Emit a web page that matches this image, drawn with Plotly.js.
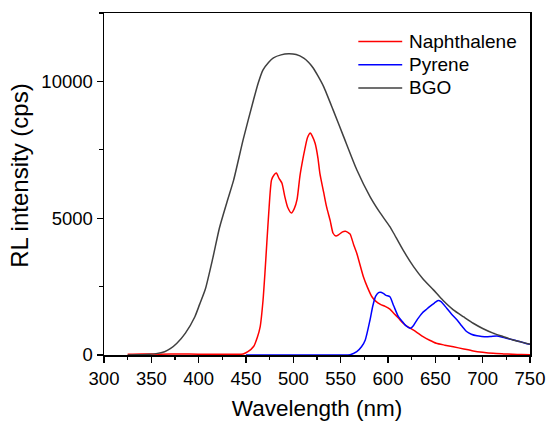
<!DOCTYPE html>
<html>
<head>
<meta charset="utf-8">
<script src="https://cdn.plot.ly/plotly-3.0.1.min.js"></script>
<style>
html,body{margin:0;padding:0;background:#fff;}
#chart{width:547px;height:422px;}
</style>
</head>
<body>
<div id="chart"></div>
<script>
// BGO
const bgoX = [325,335,345,355,364,370,377,386,396,401,407,415,422,430,437,447,458,463,468,474,479,487,495,503,511,516,521,526,532,542,553,567,581,591,602,606,616,627,637,648,658,669,680,690,700,711,722,732,741,750];
const bgoY = [0,5,20,50,120,230,430,800,1400,1850,2400,3550,4650,5600,6400,7870,9330,9950,10420,10700,10860,10970,11010,10980,10850,10700,10490,10200,9810,8960,7990,6770,5790,5230,4690,4450,3830,3230,2780,2380,2000,1650,1390,1160,970,800,670,550,470,390];

// Naphthalene
const napX = [325,340,360,380,400,420,440,447,452,458,462,465,468,470,472,474,477,480,482,485,488,491,494,498,501,504,507,510,512,515,518,520,523,526,528,532,535,539,542,545,548,552,555,558,560,564,567,574,578,583,587,592,597,602,606,611,616,621,627,632,637,644,651,660,669,680,690,700,711,722,732,741,750];
const napY = [30,40,30,40,30,30,30,40,120,310,650,1040,2000,2990,4100,5180,6400,6600,6650,6450,6280,5790,5400,5190,5350,5700,6550,7150,7500,7950,8110,8000,7740,7200,6650,5950,5430,4900,4450,4350,4400,4500,4520,4470,4420,4000,3720,2860,2500,2130,1970,1850,1780,1680,1530,1350,1160,1030,910,790,670,540,430,360,300,220,150,100,60,40,25,15,10];

// Pyrene
const pyrX = [450,500,550,560,567,572,576,581,584,587,590,592,595,598,602,606,611,615,618,621,624,627,631,636,640,644,649,653,656,662,667,673,678,683,688,694,699,704,709,715,720,725,732,739,745,750];
const pyrY = [0,0,0,10,120,300,550,1280,1800,2150,2280,2290,2250,2180,2130,1800,1400,1230,1100,1020,980,1080,1300,1530,1650,1770,1900,1990,1950,1710,1500,1280,1060,860,760,700,680,670,680,695,660,610,560,490,430,390];

const seriesNames = ['Naphthalene', 'Pyrene', 'BGO'];
const seriesColors = ['#ff0000', '#0000ff', '#404040'];
const xTickVals = [300,350,400,450,500,550,600,650,700,750];
const yTickVals = [0,5000,10000];
const xTitle = 'Wavelength (nm)';
const yTitle = 'RL intensity (cps)';

const font = "Liberation Sans, Arial, Helvetica, sans-serif";
const xs = [napX, pyrX, bgoX], ys = [napY, pyrY, bgoY];

const traces = seriesNames.map((n, i) => ({
  x: xs[i], y: ys[i], name: n, type: 'scatter', mode: 'lines',
  line: {color: seriesColors[i], width: 1.5, shape: 'spline', smoothing: 0.6},
  showlegend: false
}));

// custom legend (paper coordinates)
const legY = [0.917, 0.849, 0.781];
const shapes = seriesNames.map((n, i) => ({
  type: 'line', xref: 'paper', yref: 'paper',
  x0: 0.597, x1: 0.700, y0: legY[i], y1: legY[i],
  line: {color: seriesColors[i], width: 1.5}
}));
const annotations = seriesNames.map((n, i) => ({
  xref: 'paper', yref: 'paper', x: 0.712, y: legY[i],
  xanchor: 'left', yanchor: 'middle', text: n, showarrow: false,
  font: {family: font, size: 19, color: '#000'}
}));
// y axis title as rotated text
annotations.push({
  xref: 'paper', yref: 'paper', x: -0.197, y: 0.524,
  xanchor: 'center', yanchor: 'middle', textangle: -90,
  text: yTitle, showarrow: false,
  font: {family: font, size: 24, color: '#000'}
});

const layout = {
  width: 547, height: 422,
  margin: {l: 104, r: 17, t: 13, b: 67},
  paper_bgcolor: '#fff', plot_bgcolor: '#fff',
  font: {family: font, size: 18, color: '#000'},
  showlegend: false,
  shapes: shapes,
  annotations: annotations,
  xaxis: {
    range: [300, 750], tickvals: xTickVals, ticktext: xTickVals.map(String),
    ticks: 'outside', ticklen: 6, tickwidth: 1.3, tickcolor: '#000',
    minor: {dtick: 25, tick0: 300, ticks: 'outside', ticklen: 3.5, tickwidth: 1.2, tickcolor: '#000', showgrid: false},
    showline: true, linecolor: '#000', linewidth: 1.5, mirror: true,
    showgrid: false, zeroline: false,
    tickfont: {family: font, size: 18.5},
    title: {text: xTitle, font: {family: font, size: 22.5}, standoff: 12}
  },
  yaxis: {
    range: [0, 12500], tickvals: yTickVals, ticktext: yTickVals.map(String),
    ticks: 'outside', ticklen: 6, tickwidth: 1.3, tickcolor: '#000',
    minor: {dtick: 2500, tick0: 0, ticks: 'outside', ticklen: 3.5, tickwidth: 1.2, tickcolor: '#000', showgrid: false},
    showline: true, linecolor: '#000', linewidth: 1.5, mirror: true,
    showgrid: false, zeroline: false,
    tickfont: {family: font, size: 18.5}
  }
};

Plotly.newPlot('chart', traces, layout, {displayModeBar: false, staticPlot: true});
</script>
</body>
</html>
